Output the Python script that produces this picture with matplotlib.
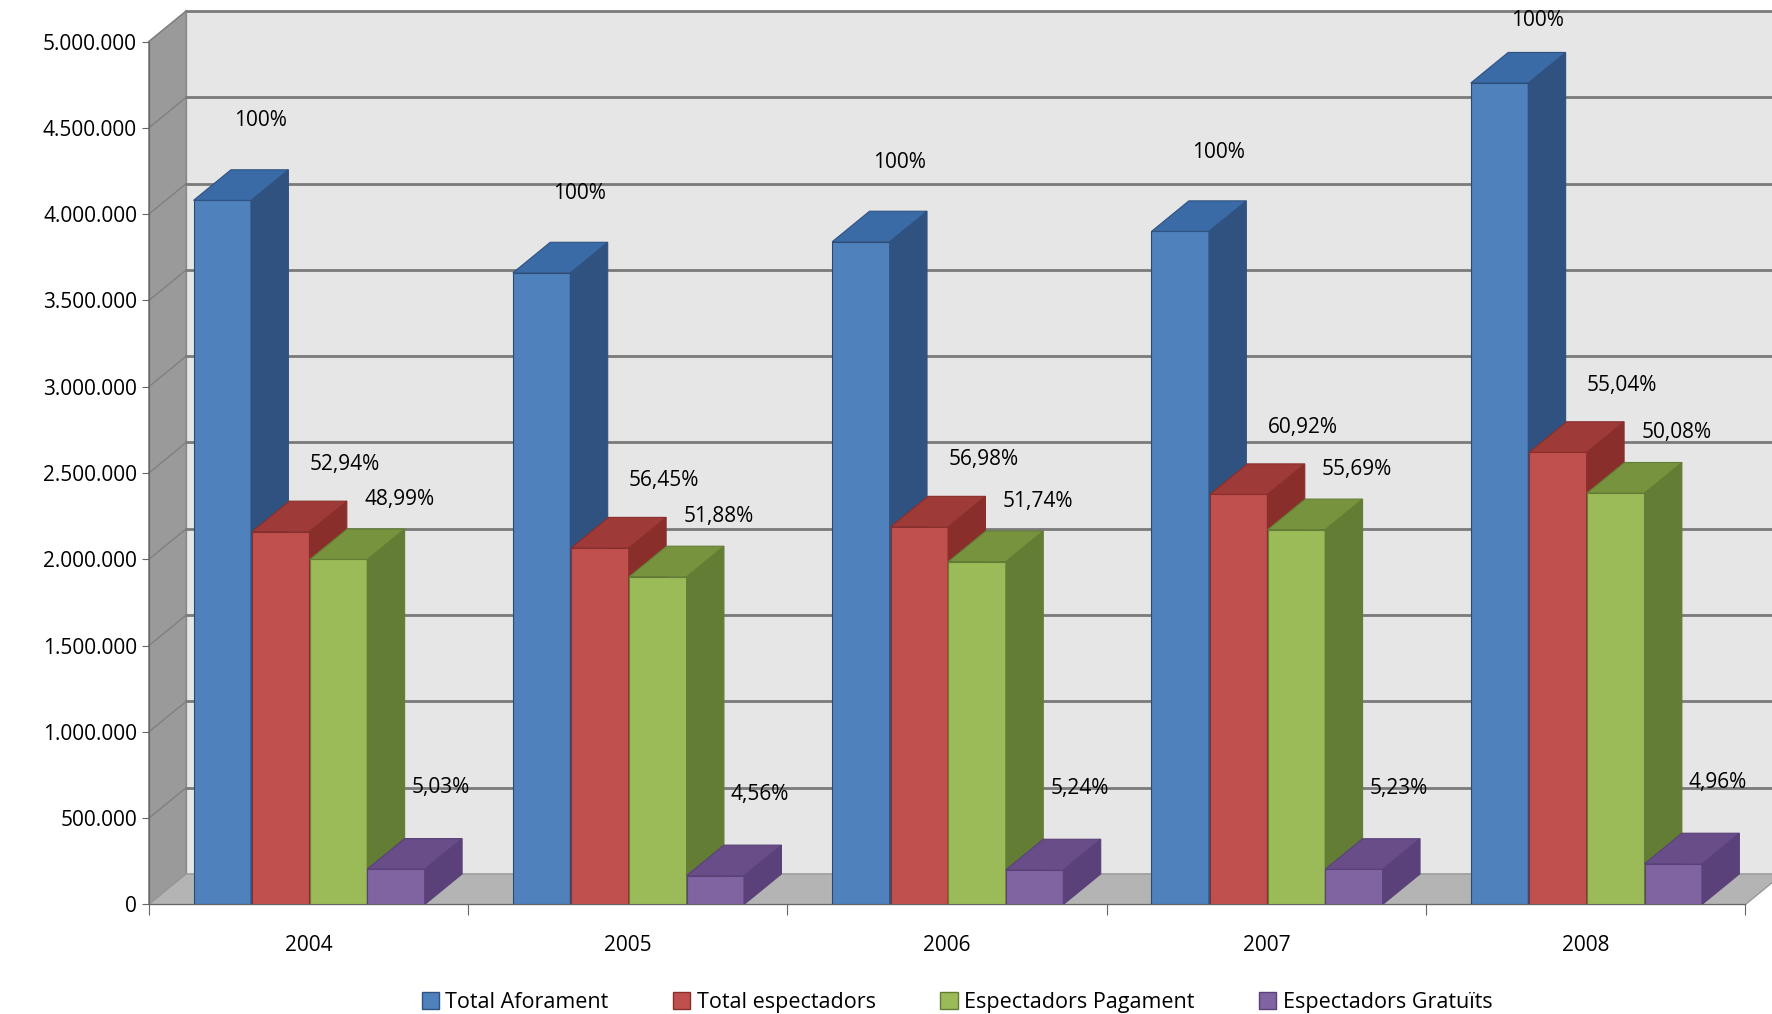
import matplotlib
matplotlib.use("Agg")
import matplotlib.pyplot as plt
from matplotlib.patches import Polygon, Rectangle
from matplotlib.ticker import FuncFormatter

years = ["2004", "2005", "2006", "2007", "2008"]
aforament = [4080000, 3660000, 3840000, 3900000, 4760000]
pct_total = ["52,94%", "56,45%", "56,98%", "60,92%", "55,04%"]
pct_pag = ["48,99%", "51,88%", "51,74%", "55,69%", "50,08%"]
pct_grat = ["5,03%", "4,56%", "5,24%", "5,23%", "4,96%"]
total_esp = [2160000, 2066000, 2188000, 2376000, 2620000]
pagament = [1999000, 1899000, 1987000, 2172000, 2384000]
gratuits = [205000, 167000, 201000, 204000, 236000]
series_names = ["Total Aforament", "Total espectadors", "Espectadors Pagament", "Espectadors Gratuïts"]

fronts = ["#4F81BD", "#C0504D", "#9BBB59", "#8064A2"]
sides = ["#2F5280", "#8A2E2C", "#637D35", "#5A4179"]
tops = ["#3B6BA6", "#9E3B38", "#78933E", "#684D89"]

fig = plt.figure(figsize=(17.72, 10.14), dpi=100)
ax = fig.add_axes([0.084, 0.108, 0.901, 0.851])
ax.set_xlim(-0.5, 4.5)
ax.set_ylim(0, 5000000)
dx, dy = 0.117, 177000
W = 0.18
offs = [-0.36, -0.177, 0.004, 0.184]
lab_dx = [0.21, 0.29, 0.28, 0.23]
lab_dy = [460000, 390000, 350000, 470000]

ax.add_patch(Polygon([(-0.5 + dx, dy), (4.5 + dx, dy), (4.5 + dx, 5e6 + dy), (-0.5 + dx, 5e6 + dy)],
                     closed=True, fc="#E6E6E6", ec="#999999", clip_on=False, zorder=0))
ax.add_patch(Polygon([(-0.5, 0), (-0.5 + dx, dy), (-0.5 + dx, 5e6 + dy), (-0.5, 5e6)],
                     closed=True, fc="#9A9A9A", ec="#888888", clip_on=False, zorder=0))
ax.add_patch(Polygon([(-0.5, 0), (4.5, 0), (4.5 + dx, dy), (-0.5 + dx, dy)],
                     closed=True, fc="#B4B4B4", ec="#999999", clip_on=False, zorder=0))
for v in range(500000, 5000001, 500000):
    ax.plot([-0.5 + dx, 4.5 + dx], [v + dy, v + dy], color="#7A7A7A", lw=2, clip_on=False, zorder=0.5)
    ax.plot([-0.5, -0.5 + dx], [v, v + dy], color="#808080", lw=1, clip_on=False, zorder=0.5)

data = [aforament, total_esp, pagament, gratuits]
labels = [["100%"] * 5, pct_total, pct_pag, pct_grat]
z = 2
for i in range(5):
    for s in range(4):
        x0 = i + offs[s]
        h = data[s][i]
        ax.add_patch(Rectangle((x0, 0), W, h, fc=fronts[s], ec="#2A4A70" if s == 0 else sides[s], lw=0.8, zorder=z))
        ax.add_patch(Polygon([(x0 + W, 0), (x0 + W + dx, dy), (x0 + W + dx, h + dy), (x0 + W, h)],
                             closed=True, fc=sides[s], ec=sides[s], lw=0.8, zorder=z))
        ax.add_patch(Polygon([(x0, h), (x0 + W, h), (x0 + W + dx, h + dy), (x0 + dx, h + dy)],
                             closed=True, fc=tops[s], ec=sides[s], lw=0.8, zorder=z))
        z += 1
for i in range(5):
    for s in range(4):
        x0 = i + offs[s]
        yy = min(data[s][i] + lab_dy[s], 5120000)
        ax.text(x0 + lab_dx[s], yy, labels[s][i], ha="center", va="center",
                fontsize=15, family="Open Sans", zorder=50, clip_on=False)

for sp in ["top", "right"]:
    ax.spines[sp].set_visible(False)
ax.spines["left"].set_color("#666666")
ax.spines["bottom"].set_color("#666666")
ax.set_xticks([-0.5, 0.5, 1.5, 2.5, 3.5, 4.5])
ax.set_xticklabels([])
ax.set_xticks(range(5), minor=True)
ax.set_xticklabels(years, minor=True, fontsize=15, family="Open Sans")
ax.tick_params(axis="x", which="minor", length=0, pad=22)
ax.tick_params(axis="x", which="major", length=8, color="#666666")
ax.set_yticks(range(0, 5000001, 500000))
ax.yaxis.set_major_formatter(FuncFormatter(lambda v, p: f"{int(v):,}".replace(",", ".")))
ax.tick_params(axis="y", labelsize=15, length=5, color="#666666")
for t in ax.get_yticklabels():
    t.set_family("Open Sans")

handles = [Rectangle((0, 0), 1, 1, fc=fronts[s], ec=sides[s]) for s in range(4)]
fig.legend(handles, series_names, loc="lower center", ncol=4, frameon=False,
           bbox_to_anchor=(0.54, -0.018), prop={"family": "Open Sans", "size": 15.5},
           handlelength=0.8, handleheight=0.8, columnspacing=3.0, handletextpad=0.3)
fig.savefig("out.png", dpi=100)
